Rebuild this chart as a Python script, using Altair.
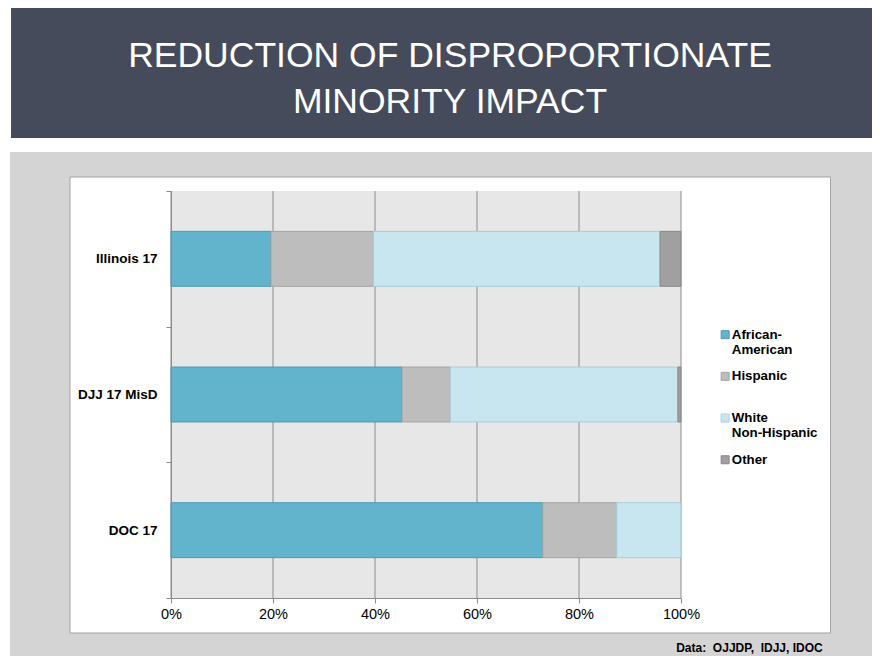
import json
import altair as alt
import pandas as pd

# ---- data ----
groups = ["Illinois 17", "DJJ 17 MisD", "DOC 17"]
races = ["African-American", "Hispanic", "White Non-Hispanic", "Other"]
african_american = [19.6, 45.3, 72.9]
hispanic = [20.1, 9.5, 14.5]
white_non_hispanic = [56.2, 44.6, 12.6]
other = [4.1, 0.6, 0.0]
x_ticks = [0, 0.2, 0.4, 0.6, 0.8, 1.0]

title_lines = ["REDUCTION OF DISPROPORTIONATE", "MINORITY IMPACT"]
source_text = "Data:\u00a0 OJJDP,\u00a0 IDJJ, IDOC"

# ---- styles ----
fill_colors = ["#62B3CC", "#BDBDBD", "#C8E6EF", "#A0A0A0"]
stroke_colors = ["#4E9BB3", "#A4A4A4", "#A9CDD9", "#878787"]
FONT = "Liberation Sans"
GREY_LINE = "#8C8C8C"

series = [african_american, hispanic, white_non_hispanic, other]
rows = []
for race, vals in zip(races, series):
    for g, v in zip(groups, vals):
        rows.append({"group": g, "race": race, "value": v})
df = pd.DataFrame(rows)
one = pd.DataFrame({"k": [0]})

x_axis = alt.Axis(values=x_ticks, format="%", grid=False, title=None,
                  labelFont=FONT, labelFontSize=14.5, labelColor="black",
                  tickColor=GREY_LINE, tickSize=5, domainColor=GREY_LINE,
                  labelPadding=4, labelFlush=False, zindex=1)
x_scale = alt.Scale(domain=[0, 1], nice=False, zero=True)

legend_label_expr = (
    "indexof(datum.label, ' ') > 0 ? split(datum.label, ' ') : "
    "(indexof(datum.label, '-') > 0 ? [slice(datum.label, 0, indexof(datum.label, '-') + 1), "
    "slice(datum.label, indexof(datum.label, '-') + 1)] : datum.label)"
)
legend = alt.Legend(title=None, orient="none", legendX=547.5, legendY=137,
                    symbolType="square", symbolSize=64, symbolStrokeWidth=1,
                    labelFont=FONT, labelFontWeight="bold", labelFontSize=13.3,
                    labelColor="black", labelOffset=0, rowPadding=11.7,
                    gridAlign="all", padding=0, labelExpr=legend_label_expr,
                    labelBaseline="middle", labelLimit=200)

# decorations (slide background)
header = alt.Chart(one).mark_rect(color="#454B5B").encode(
    x=alt.value(-160), x2=alt.value(701), y=alt.value(-190), y2=alt.value(-53))
panel = alt.Chart(one).mark_rect(color="#D4D4D4").encode(
    x=alt.value(-161), x2=alt.value(701), y=alt.value(-39), y2=alt.value(470))
box = alt.Chart(one).mark_rect(color="white", stroke="#A3A3A3", strokeWidth=1).encode(
    x=alt.value(-101), x2=alt.value(659.5), y=alt.value(-14), y2=alt.value(442))
plotbg = alt.Chart(one).mark_rect(color="#E6E7E6").encode(
    x=alt.value(0), x2=alt.value("width"), y=alt.value(0), y2=alt.value("height"))

grid = alt.Chart(pd.DataFrame({"tick": x_ticks})).mark_rule(
    color=GREY_LINE, strokeWidth=1).encode(
    x=alt.X("tick:Q", scale=x_scale, axis=x_axis))

bars = alt.Chart(df).transform_filter("datum.value > 0").transform_calculate(
    order=f"indexof({json.dumps(races)}, datum.race)"
).mark_bar(height={"band": 0.405}, strokeWidth=1).encode(
    y=alt.Y("group:N", sort=groups,
            scale=alt.Scale(paddingInner=0, paddingOuter=0),
            axis=alt.Axis(title=None, tickBand="extent", tickSize=5,
                          tickColor=GREY_LINE, domainColor=GREY_LINE,
                          labelFont=FONT, labelFontWeight="bold",
                          labelFontSize=13.5, labelColor="black",
                          labelPadding=9, zindex=1)),
    x=alt.X("value:Q", stack="normalize", scale=x_scale, axis=x_axis),
    color=alt.Color("race:N", scale=alt.Scale(domain=races, range=fill_colors), legend=legend),
    stroke=alt.Stroke("race:N", scale=alt.Scale(domain=races, range=stroke_colors), legend=legend),
    order=alt.Order("order:Q"),
)

title_text = alt.Chart(one).mark_text(
    text=title_lines, font=FONT, fontSize=35.5, color="white", align="center",
    baseline="alphabetic", lineHeight=46).encode(
    x=alt.value(279), y=alt.value(-124))

source = alt.Chart(one).mark_text(
    text=source_text, font=FONT, fontSize=12, fontWeight="bold", color="black",
    align="right", baseline="alphabetic").encode(
    x=alt.value(651.7), y=alt.value(460.7))

chart = alt.layer(header, panel, box, plotbg, grid, bars, title_text, source).properties(
    width=510, height=407,
    padding={"left": 163, "top": 183, "right": 191, "bottom": 58},
    autosize="none", background="white",
).configure_view(stroke=None)

chart.save("out.html", embed_options={"renderer": "svg", "actions": False})
